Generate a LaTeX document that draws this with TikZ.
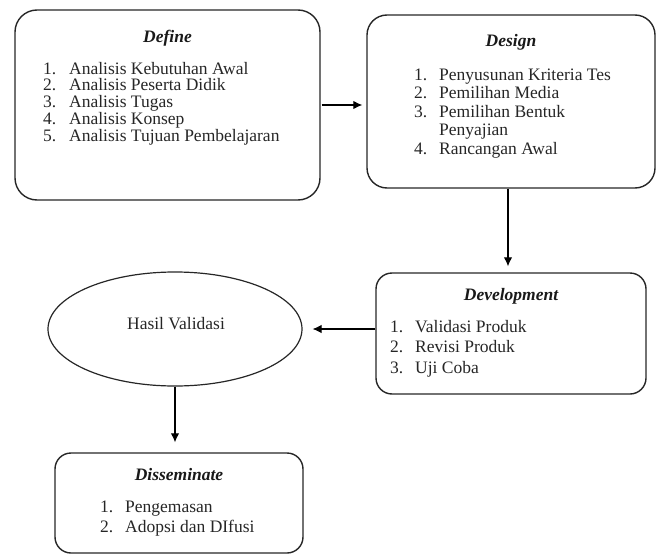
\documentclass[tikz,border=0pt]{standalone}
\usepackage{fontspec}
\setmainfont{Liberation Serif}
\usetikzlibrary{shapes.geometric,arrows.meta}
\begin{document}
\begin{tikzpicture}[x=1pt,y=-1pt,
  box/.style={draw=black!85, line width=1.4pt, inner sep=0pt},
  ttl/.style={anchor=base, font=\fontsize{17.5}{20}\selectfont\bfseries\itshape, inner sep=0pt, text=black!90},
  itm/.style={anchor=base west, font=\fontsize{17.5}{20}\selectfont, inner sep=0pt, text=black!85},
  arr/.style={draw=black, line width=1.1pt, -{Latex[length=9pt,width=8.5pt]}}]
\useasboundingbox (0,0) rectangle (659,554);

% boxes
\node[box, rounded corners=22pt, minimum width=305pt, minimum height=190pt] (define) at (167.5,105) {};
\node[box, rounded corners=20pt, minimum width=288pt, minimum height=173pt] (design) at (511,101.5) {};
\node[box, rounded corners=16pt, minimum width=270pt, minimum height=121pt] (devel) at (511,333.5) {};
\node[draw=black!85, line width=1.2pt, ellipse, inner sep=0pt, minimum width=254pt, minimum height=114pt] (hasil) at (175,329) {};
\node[box, rounded corners=16pt, minimum width=248pt, minimum height=100pt] (dissem) at (179,503) {};

% Define
\node[ttl] (def-t) at (167.5,42) {Define};
\node[itm] (def-n1) at (43,74) {1.};    \node[itm] (def-1) at (69,74) {Analisis Kebutuhan Awal};
\node[itm] (def-n2) at (43,90.75) {2.}; \node[itm] (def-2) at (69,90.75) {Analisis Peserta Didik};
\node[itm] (def-n3) at (43,107.5) {3.}; \node[itm] (def-3) at (69,107.5) {Analisis Tugas};
\node[itm] (def-n4) at (43,124.25) {4.};\node[itm] (def-4) at (69,124.25) {Analisis Konsep};
\node[itm] (def-n5) at (43,141) {5.};   \node[itm] (def-5) at (69,141) {Analisis Tujuan Pembelajaran};

% Design
\node[ttl] (des-t) at (511,46) {Design};
\node[itm] (des-n1) at (414,80) {1.};   \node[itm] (des-1) at (439,80) {Penyusunan Kriteria Tes};
\node[itm] (des-n2) at (414,98.5) {2.}; \node[itm] (des-2) at (439,98.5) {Pemilihan Media};
\node[itm] (des-n3) at (414,117) {3.};  \node[itm] (des-3) at (439,117) {Pemilihan Bentuk};
\node[itm] (des-3b) at (439,135.5) {Penyajian};
\node[itm] (des-n4) at (414,154) {4.};  \node[itm] (des-4) at (439,154) {Rancangan Awal};

% Development
\node[ttl] (dev-t) at (511,300) {Development};
\node[itm] (dev-n1) at (390,332) {1.};   \node[itm] (dev-1) at (415,332) {Validasi Produk};
\node[itm] (dev-n2) at (390,352.5) {2.}; \node[itm] (dev-2) at (415,352.5) {Revisi Produk};
\node[itm] (dev-n3) at (390,373) {3.};   \node[itm] (dev-3) at (415,373) {Uji Coba};

% Hasil Validasi
\node[itm, anchor=base] (hasil-t) at (176,329) {Hasil Validasi};

% Disseminate
\node[ttl] (dis-t) at (179,480) {Disseminate};
\node[itm] (dis-n1) at (100,512) {1.}; \node[itm] (dis-1) at (125,512) {Pengemasan};
\node[itm] (dis-n2) at (100,532) {2.}; \node[itm] (dis-2) at (125,532) {Adopsi dan DIfusi};

% connectors
\draw[arr, shorten <=1pt, shorten >=4pt] (define.east) -- (design.west |- define.east);
\draw[arr, shorten >=6pt] ([xshift=-3pt]design.south) -- ([xshift=-3pt]design.south |- devel.north);
\draw[arr, shorten >=10pt] (hasil.east -| devel.west) -- (hasil.east);
\draw[arr, shorten >=10pt] (hasil.south) -- (hasil.south |- dissem.north);
\end{tikzpicture}
\end{document}
